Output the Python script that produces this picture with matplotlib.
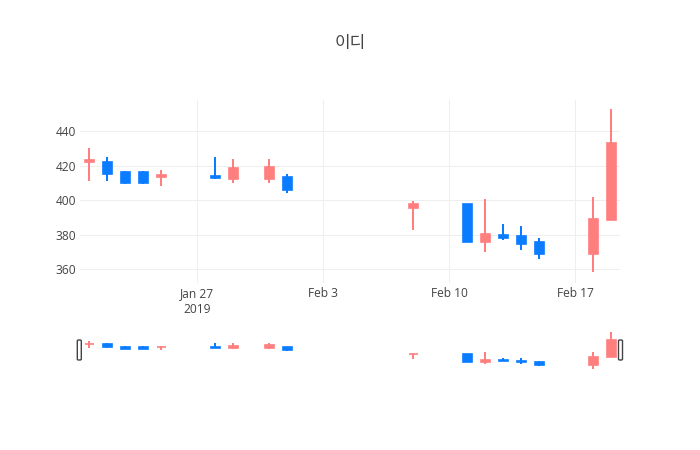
import matplotlib
matplotlib.use("Agg")
import matplotlib.pyplot as plt
import matplotlib.dates as mdates
from matplotlib.patches import FancyBboxPatch
import pandas as pd
import numpy as np

# ---- data ----
dates = ["2019-01-21", "2019-01-22", "2019-01-23", "2019-01-24", "2019-01-25",
         "2019-01-28", "2019-01-29", "2019-01-31", "2019-02-01", "2019-02-08",
         "2019-02-11", "2019-02-12", "2019-02-13", "2019-02-14", "2019-02-15",
         "2019-02-18", "2019-02-19"]
open_ = [422, 422, 416, 416, 413.5, 414, 412, 412, 413.5, 395.5,
         397.5, 375.5, 380, 379, 375.5, 368.5, 388.5]
high = [430, 425, 417, 417, 417.5, 425, 424, 424, 415, 399.5,
        397.5, 400.5, 386, 385, 378, 401.5, 453]
low = [411, 411, 409.5, 409.5, 408, 412, 410, 410, 404, 382.5,
       375.5, 370, 377, 371, 366, 358, 388.5]
close = [423, 415, 410, 410, 414.5, 413, 418.5, 419, 406, 397.5,
         375.5, 380.5, 378, 374.5, 368.5, 389, 433]
xtick_dates = ["2019-01-27", "2019-02-03", "2019-02-10", "2019-02-17"]
xtick_labels = ["Jan 27\n2019", "Feb 3", "Feb 10", "Feb 17"]
yticks = [360, 380, 400, 420, 440]
title = "이디"

UP = "#FF7F7F"
DOWN = "#0A7CFF"
TXT = "#444444"
GRID = "#EEEEEE"

plt.rcParams['font.family'] = ['Open Sans', 'DejaVu Sans']

W, H = 700, 450
fig = plt.figure(figsize=(7, 4.5), dpi=100)

def px_axes(x0, x1, y0, y1):
    return fig.add_axes([x0 / W, 1 - y1 / H, (x1 - x0) / W, (y1 - y0) / H])

ax = px_axes(80, 620, 100, 283)
sl = px_axes(80, 620, 330.5, 371)

x = mdates.date2num(pd.to_datetime(dates))
xt = mdates.date2num(pd.to_datetime(xtick_dates))
xmin, xmax = x[0] - 0.5, x[-1] + 0.5
ylo, yhi = 351.9, 458.0

def draw(a):
    for xi, o, h, l, c in zip(x, open_, high, low, close):
        col = UP if c >= o else DOWN
        a.vlines(xi, l, h, color=col, lw=1.44, zorder=2)
        b = min(o, c)
        a.bar(xi, abs(c - o), bottom=b, width=0.5, color=col, edgecolor=col,
              linewidth=1.2, zorder=3)
    a.set_xlim(xmin, xmax)
    a.set_ylim(ylo, yhi)

draw(ax)
draw(sl)

for s in ax.spines.values():
    s.set_visible(False)
for s in sl.spines.values():
    s.set_visible(False)

ax.set_yticks(yticks)
ax.set_yticklabels([str(v) for v in yticks])
ax.set_xticks(xt)
ax.set_xticklabels(xtick_labels)
ax.tick_params(axis='both', length=0, labelsize=8.64, labelcolor=TXT)
ax.tick_params(axis='x', pad=3)
ax.tick_params(axis='y', pad=3)
for lab in ax.get_xticklabels():
    lab.set_linespacing(1.25)
ax.grid(True, color=GRID, lw=0.72)
ax.set_axisbelow(True)

sl.set_xticks([])
sl.set_yticks([])

# range slider handles
for hx in (77.3, 618.5):
    p = FancyBboxPatch((hx / W, 1 - 360 / H), 4 / W, 20 / H,
                       boxstyle="round,pad=0,rounding_size=0.002",
                       transform=fig.transFigure, facecolor="white",
                       edgecolor="#444444", linewidth=1.0, zorder=10)
    fig.patches.append(p)

fig.text(350 / W, 1 - 43 / H, title, ha='center', va='center', fontsize=12.2,
         color=TXT, family=['Noto Sans CJK KR', 'DejaVu Sans'])

fig.savefig("out.png", dpi=100)
